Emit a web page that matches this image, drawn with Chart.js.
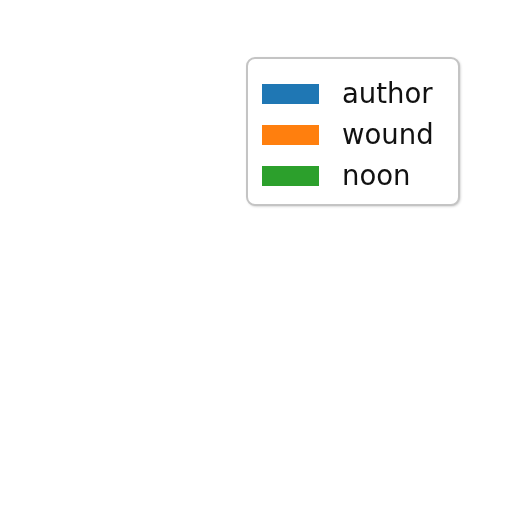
<!DOCTYPE html>
<html>
<head>
<meta charset="utf-8">
<script src="https://cdn.jsdelivr.net/npm/chart.js@4"></script>
<style>
  html, body { margin: 0; padding: 0; background: #fff; }
  #wrap { width: 512px; height: 512px; }
</style>
</head>
<body>
<div id="wrap"><canvas id="myChart" width="512" height="512"></canvas></div>
<script>
// nothing is plotted in the reference, only the legend survives
const categories = [];
const seriesNames = ['author', 'wound', 'noon'];
const seriesColors = ['#1f77b4', '#ff7f0e', '#2ca02c'];
const authorValues = [];
const woundValues = [];
const noonValues = [];

const seriesValues = [authorValues, woundValues, noonValues];

// draws a matplotlib-like framed legend in the upper right
const boxLegend = {
    id: 'boxLegend',
    afterDraw(chart) {
        const ctx = chart.ctx;
        const x = 247, y = 58, w = 212, h = 147, r = 8;
        ctx.save();
        ctx.shadowColor = 'rgba(0,0,0,0.3)';
        ctx.shadowBlur = 3;
        ctx.shadowOffsetX = 1;
        ctx.shadowOffsetY = 1;
        ctx.beginPath();
        ctx.roundRect(x, y, w, h, r);
        ctx.fillStyle = '#ffffff';
        ctx.fill();
        ctx.shadowColor = 'transparent';
        ctx.lineWidth = 2;
        ctx.strokeStyle = '#c4c4c4';
        ctx.stroke();

        ctx.font = '27.5px "DejaVu Sans"';
        ctx.textBaseline = 'middle';
        chart.data.datasets.forEach((ds, i) => {
            const cy = y + 36 + i * 41;
            ctx.fillStyle = ds.backgroundColor;
            ctx.fillRect(x + 15, cy - 10, 57, 20);
            ctx.fillStyle = '#111111';
            ctx.fillText(ds.label, x + 95, cy + 2);
        });
        ctx.restore();
    }
};

new Chart(document.getElementById('myChart'), {
    type: 'bar',
    data: {
        labels: categories,
        datasets: seriesNames.map((name, i) => ({
            label: name,
            data: seriesValues[i],
            backgroundColor: seriesColors[i]
        }))
    },
    options: {
        responsive: false,
        animation: false,
        plugins: {
            legend: { display: false },
            tooltip: { enabled: false }
        },
        scales: {
            x: { display: false },
            y: { display: false }
        }
    },
    plugins: [boxLegend]
});
</script>
</body>
</html>
